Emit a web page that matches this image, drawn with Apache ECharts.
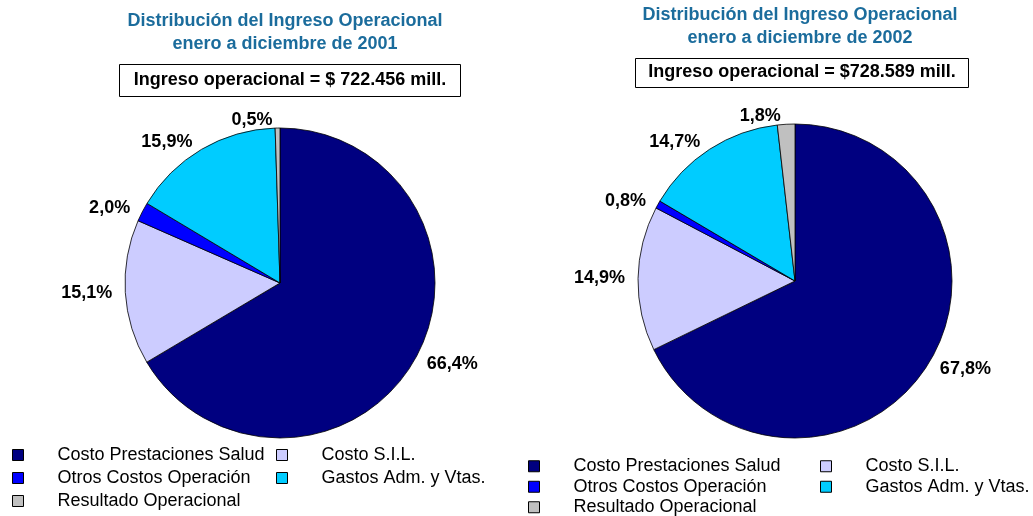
<!DOCTYPE html>
<html>
<head>
    <meta charset="utf-8">
    <title>Ingreso Operacional</title>
    <script src="https://cdn.jsdelivr.net/npm/echarts@6/dist/echarts.min.js"></script>
</head>
<body style="margin:0">
<div id="main" style="width: 1033px;height:516px;"></div>
<script type="text/javascript">
var categories = ['Costo Prestaciones Salud', 'Costo S.I.L.', 'Otros Costos Operación', 'Gastos Adm. y Vtas.', 'Resultado Operacional'];
var colors = ['#000080', '#ccccff', '#0000ff', '#00ccff', '#c0c0c0'];
var values2001 = [66.4, 15.1, 2.0, 15.9, 0.5];
var values2002 = [67.8, 14.9, 0.8, 14.7, 1.8];
var ingreso2001 = 'Ingreso operacional = $ 722.456 mill.';
var ingreso2002 = 'Ingreso operacional = $728.589 mill.';

var font = 'Liberation Sans';
var titleColor = '#1b6c9c';

function pieData(values) {
    return values.map(function (v, i) {
        return { name: categories[i], value: v, itemStyle: { color: colors[i] } };
    });
}

function pieSeries(values, center, radius) {
    return {
        type: 'pie',
        center: center,
        radius: radius,
        startAngle: 90,
        clockwise: true,
        avoidLabelOverlap: false,
        silent: true,
        itemStyle: { borderColor: '#000', borderWidth: 0.8 },
        label: {
            show: true,
            position: 'outside',
            color: '#000',
            fontFamily: font,
            fontWeight: 'bold',
            fontSize: 18,
            formatter: function (p) {
                return p.value.toFixed(1).replace('.', ',') + '%';
            }
        },
        labelLine: { show: false, length: 8, length2: 0 },
        data: pieData(values)
    };
}

function legend(names, left, top, lineH) {
    return {
        orient: 'vertical',
        left: left,
        top: top,
        height: 120,
        padding: 0,
        itemWidth: 11,
        itemHeight: 11,
        itemGap: 0,
        icon: 'rect',
        selectedMode: false,
        itemStyle: { borderColor: '#000', borderWidth: 1 },
        textStyle: { fontFamily: font, fontSize: 18, color: '#000', lineHeight: lineH, padding: [0, 0, 0, 29] },
        data: names
    };
}

var col1 = [categories[0], categories[2], categories[4]];
var col2 = [categories[1], categories[3]];

var myChart = echarts.init(document.getElementById('main'));
myChart.setOption({
    animation: false,
    title: [{
        text: 'Distribución del Ingreso Operacional\nenero a diciembre de 2001',
        left: 280, top: 5, textAlign: 'center',
        textStyle: { fontFamily: font, fontSize: 18, fontWeight: 'bold', color: titleColor, lineHeight: 23 }
    }, {
        text: 'Distribución del Ingreso Operacional\nenero a diciembre de 2002',
        left: 795, top: -1, textAlign: 'center',
        textStyle: { fontFamily: font, fontSize: 18, fontWeight: 'bold', color: titleColor, lineHeight: 23 }
    }, {
        text: ingreso2001,
        left: 276, top: 64, textAlign: 'center',
        borderColor: '#000', borderWidth: 1, padding: [7, 14, 7, 14],
        textStyle: { fontFamily: font, fontSize: 18, fontWeight: 'bold', color: '#000', lineHeight: 19 }
    }, {
        text: ingreso2002,
        left: 789, top: 58, textAlign: 'center',
        borderColor: '#000', borderWidth: 1, padding: [5, 13, 6, 13],
        textStyle: { fontFamily: font, fontSize: 18, fontWeight: 'bold', color: '#000', lineHeight: 19 }
    }],
    legend: [
        legend(col1, 12, 443.5, 23),
        legend(col2, 276, 443.5, 23),
        legend(col1, 528, 456, 20.5),
        legend(col2, 820, 456, 20.5)
    ],
    series: [
        pieSeries(values2001, [280, 283], 155),
        pieSeries(values2002, [795, 281], 157)
    ]
});
</script>
</body>
</html>
